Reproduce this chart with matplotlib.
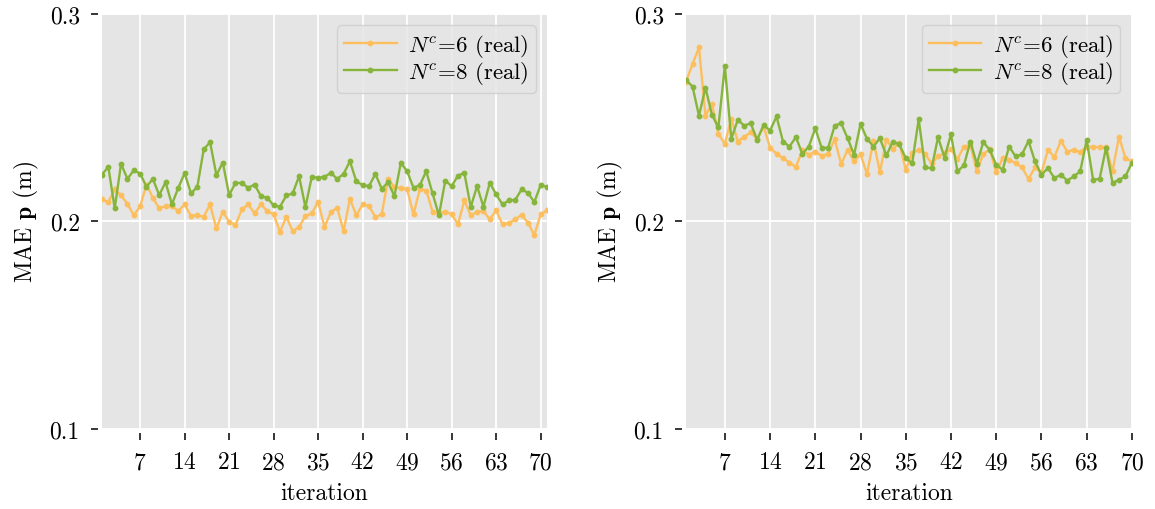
import numpy as np
import matplotlib
matplotlib.use('Agg')
import matplotlib.pyplot as plt

plt.rcParams['font.family'] = 'serif'
plt.rcParams['font.serif'] = ['cmr10']
plt.rcParams['mathtext.fontset'] = 'cm'
plt.rcParams['axes.formatter.use_mathtext'] = True
plt.rcParams['font.size'] = 17

# left panel data (iterations 1..71)
left_n6 = [0.2106, 0.2093, 0.2154, 0.2125, 0.2085, 0.2030, 0.2072, 0.2178, 0.2114, 0.2063,
           0.2074, 0.2074, 0.2050, 0.2082, 0.2026, 0.2030, 0.2022, 0.2082, 0.1966, 0.2047,
           0.1998, 0.1982, 0.2058, 0.2082, 0.2039, 0.2082, 0.2050, 0.2034, 0.1950, 0.2022,
           0.1953, 0.1973, 0.2026, 0.2039, 0.2095, 0.1973, 0.2045, 0.2066, 0.1953, 0.2109,
           0.2030, 0.2082, 0.2074, 0.2021, 0.2034, 0.2205, 0.2164, 0.2162, 0.2154, 0.2034,
           0.2157, 0.2149, 0.2047, 0.2042, 0.2047, 0.2034, 0.1986, 0.2101, 0.2029, 0.2047,
           0.2050, 0.2010, 0.2053, 0.1986, 0.1992, 0.2010, 0.2032, 0.1994, 0.1934, 0.2034,
           0.2053]
left_n8 = [0.2226, 0.2263, 0.2063, 0.2278, 0.2205, 0.2246, 0.2231, 0.2167, 0.2205, 0.2127,
           0.2189, 0.2082, 0.2162, 0.2233, 0.2135, 0.2167, 0.2347, 0.2382, 0.2223, 0.2284,
           0.2127, 0.2186, 0.2185, 0.2162, 0.2178, 0.2122, 0.2114, 0.2077, 0.2071, 0.2125,
           0.2135, 0.2218, 0.2069, 0.2215, 0.2210, 0.2215, 0.2234, 0.2205, 0.2229, 0.2290,
           0.2194, 0.2175, 0.2170, 0.2229, 0.2157, 0.2189, 0.2122, 0.2282, 0.2242, 0.2162,
           0.2175, 0.2242, 0.2135, 0.2029, 0.2197, 0.2170, 0.2221, 0.2234, 0.2069, 0.2170,
           0.2071, 0.2186, 0.2130, 0.2082, 0.2101, 0.2104, 0.2154, 0.2138, 0.2093, 0.2175,
           0.2167]

# right panel data (iterations 1..70)
right_n6 = [0.2674, 0.2758, 0.2839, 0.2510, 0.2567, 0.2422, 0.2374, 0.2494, 0.2385, 0.2408,
            0.2429, 0.2398, 0.2457, 0.2356, 0.2326, 0.2305, 0.2284, 0.2262, 0.2345, 0.2321,
            0.2337, 0.2316, 0.2326, 0.2396, 0.2276, 0.2345, 0.2289, 0.2324, 0.2228, 0.2388,
            0.2238, 0.2393, 0.2350, 0.2377, 0.2249, 0.2329, 0.2345, 0.2324, 0.2281, 0.2313,
            0.2329, 0.2348, 0.2300, 0.2361, 0.2369, 0.2241, 0.2324, 0.2348, 0.2236, 0.2305,
            0.2297, 0.2281, 0.2260, 0.2205, 0.2260, 0.2233, 0.2345, 0.2310, 0.2388, 0.2337,
            0.2345, 0.2334, 0.2361, 0.2358, 0.2358, 0.2358, 0.2241, 0.2409, 0.2305, 0.2289]
right_n8 = [0.2682, 0.2650, 0.2509, 0.2645, 0.2514, 0.2454, 0.2749, 0.2398, 0.2489, 0.2462,
            0.2473, 0.2393, 0.2465, 0.2438, 0.2506, 0.2385, 0.2361, 0.2406, 0.2326, 0.2361,
            0.2449, 0.2353, 0.2356, 0.2462, 0.2473, 0.2401, 0.2321, 0.2470, 0.2398, 0.2361,
            0.2401, 0.2318, 0.2385, 0.2372, 0.2305, 0.2281, 0.2493, 0.2260, 0.2257, 0.2406,
            0.2308, 0.2420, 0.2241, 0.2270, 0.2385, 0.2278, 0.2382, 0.2345, 0.2273, 0.2249,
            0.2361, 0.2313, 0.2324, 0.2388, 0.2289, 0.2225, 0.2257, 0.2209, 0.2225, 0.2197,
            0.2217, 0.2241, 0.2393, 0.2201, 0.2205, 0.2356, 0.2185, 0.2201, 0.2217, 0.2284]

labels = [r'$N^c$=6 (real)', r'$N^c$=8 (real)']
colors = ['#fdbf5e', '#87b53c']
xticks = [7, 14, 21, 28, 35, 42, 49, 56, 63, 70]
yticks = [0.1, 0.2, 0.3]

fig = plt.figure(figsize=(11.55, 5.1), dpi=100)
ax1 = fig.add_axes([0.0883, 0.157, 0.3853, 0.8137])
ax2 = fig.add_axes([0.594, 0.157, 0.386, 0.8137])

for ax, s6, s8 in [(ax1, left_n6, left_n8), (ax2, right_n6, right_n8)]:
    x = np.arange(1, len(s6) + 1)
    ax.set_facecolor('#e5e5e5')
    ax.plot(x, s6, color=colors[0], lw=1.7, marker='o', ms=3.2, label=labels[0])
    ax.plot(x, s8, color=colors[1], lw=1.7, marker='o', ms=3.2, label=labels[1])
    ax.set_xlim(1, len(s6))
    ax.set_ylim(0.1, 0.3)
    ax.set_xticks(xticks)
    ax.set_yticks(yticks)
    ax.set_yticklabels(['0.1', '0.2', '0.3'])
    ax.grid(True, color='white', lw=1.3)
    ax.set_axisbelow(True)
    for sp in ax.spines.values():
        sp.set_position(('outward', 3))
        sp.set_visible(False)
    ax.tick_params(length=5, width=1.1, pad=8)
    ax.set_xlabel('iteration', labelpad=6)
    ax.set_ylabel(r'MAE $\mathbf{p}$ (m)', labelpad=6)
    leg = ax.legend(loc='upper right', numpoints=1, fontsize=16.5, facecolor='#e5e5e5',
                    edgecolor='#cccccc', framealpha=0.8, handlelength=2.3,
                    handletextpad=0.5, labelspacing=0.0, borderpad=0.3)

fig.savefig('out.png', dpi=100)
